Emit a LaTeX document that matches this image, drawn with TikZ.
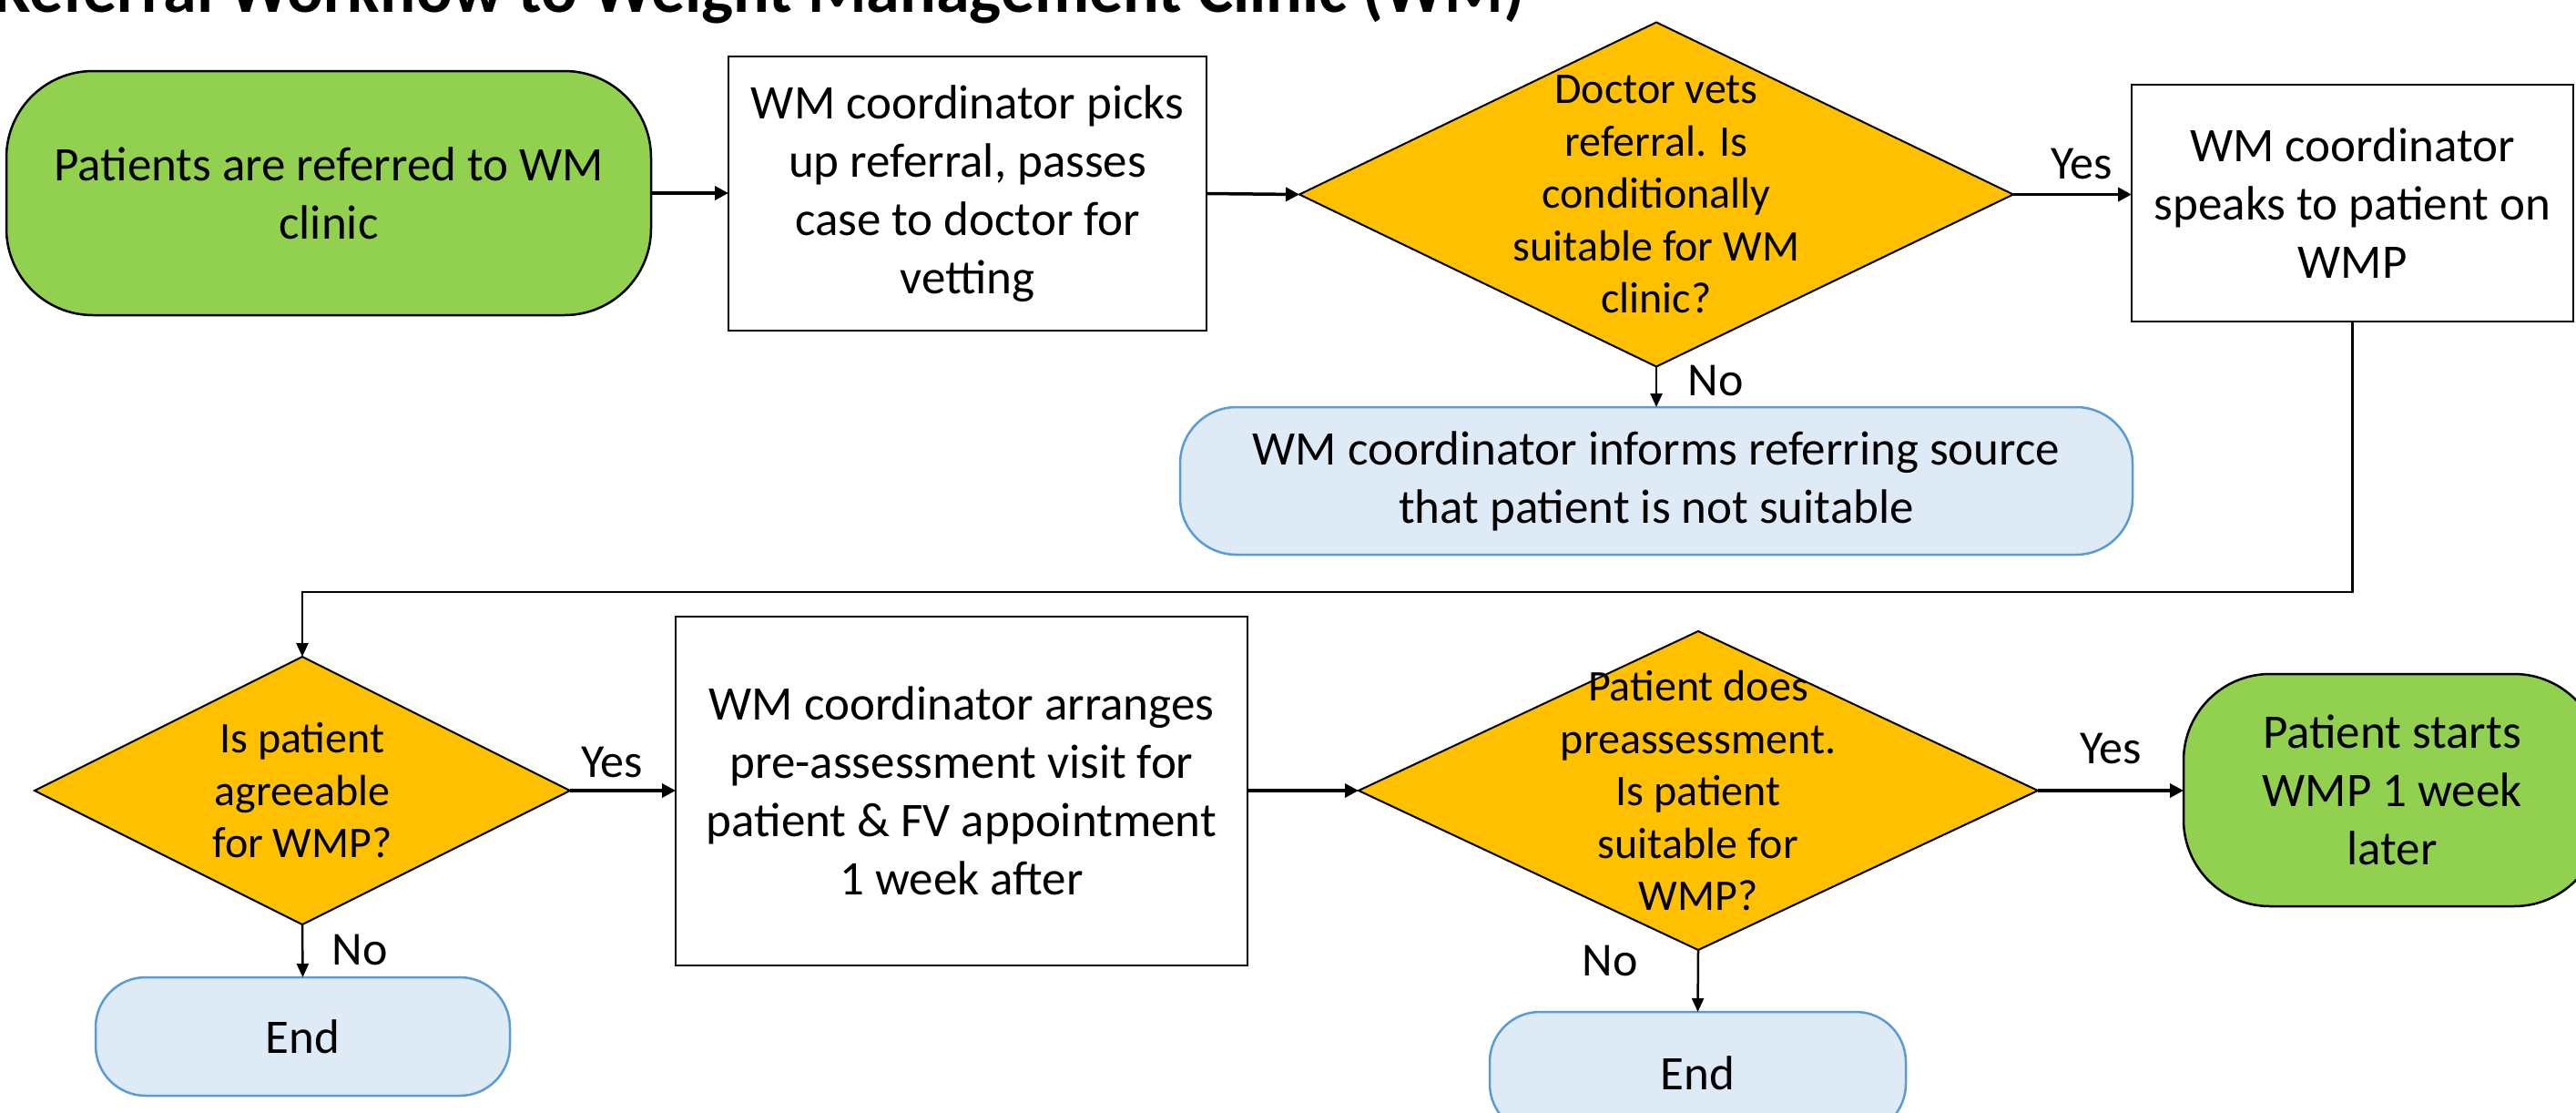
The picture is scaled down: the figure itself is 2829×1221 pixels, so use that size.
\documentclass[tikz,border=0pt]{standalone}
\usepackage{fontspec}
\setmainfont{Carlito}
\usetikzlibrary{shapes.geometric,arrows.meta}
\definecolor{gfill}{HTML}{92D050}
\definecolor{ofill}{HTML}{FFC000}
\definecolor{bfill}{HTML}{DEEBF7}
\definecolor{bdraw}{HTML}{5B9BD5}
\begin{document}
\begin{tikzpicture}[x=1pt,y=-1pt,
 box/.style={draw=black, line width=2.5pt, fill=white, inner sep=0pt, outer sep=0pt, align=center, font=\fontsize{53}{64}\selectfont},
 startbox/.style={box, fill=gfill, rounded corners=95pt},
 endbox/.style={draw=bdraw, line width=2.5pt, fill=bfill, inner sep=0pt, outer sep=0pt, align=center, font=\fontsize{53}{64}\selectfont},
 decision/.style={diamond, draw=black, line width=2pt, fill=ofill, inner sep=0pt, outer sep=0pt},
 dtext/.style={align=center, inner sep=0pt, font=\fontsize{48}{57.5}\selectfont},
 lbl/.style={anchor=base, inner sep=0pt, font=\fontsize{52}{60}\selectfont},
 arr/.style={-{Triangle[length=15pt,width=15pt]}, line width=3.5pt},
 arrthin/.style={-{Triangle[length=15pt,width=13pt]}, line width=2.5pt},
]
\path[use as bounding box, clip] (0,0) rectangle (2829,1221);
\fill[white] (0,0) rectangle (2829,1221);

\node[anchor=base west, inner sep=0pt, font=\fontsize{74}{80}\selectfont\bfseries] (title) at (-8,13) {Referral Workflow to Weight Management Clinic (WM)};

\node[startbox, minimum width=708pt, minimum height=268pt] (s1) at (361,212) {Patients are referred to WM\\clinic};
\node[box, minimum width=525pt, minimum height=301pt] (b2) at (1062.5,212.5) {WM coordinator picks\\up referral, passes\\case to doctor for\\vetting};
\node[decision, minimum width=784pt, minimum height=378pt] (d1) at (1819,213.5) {};
\node[dtext] (d1t) at (d1.center) {Doctor vets\\referral. Is\\conditionally\\suitable for WM\\clinic?};
\node[box, minimum width=485pt, minimum height=260pt] (b4) at (2583.5,223) {WM coordinator\\speaks to patient on\\WMP};
\node[endbox, rounded corners=62pt, minimum width=1046pt, minimum height=162pt] (nb) at (1819,528) {WM coordinator informs referring source\\that patient is not suitable};

\node[decision, minimum width=588pt, minimum height=294pt] (d2) at (332,868) {};
\node[dtext] (d2t) at (d2.center) {Is patient\\agreeable\\for WMP?};
\node[endbox, rounded corners=55pt, minimum width=455pt, minimum height=130pt] (e1) at (332.5,1138) {End};
\node[box, minimum width=628pt, minimum height=383pt] (b9) at (1056,868.5) {WM coordinator arranges\\pre-assessment visit for\\patient \& FV appointment\\1 week after};
\node[decision, minimum width=746pt, minimum height=350pt] (d3) at (1865,868) {};
\node[dtext] (d3t) at (d3.center) {Patient does\\preassessment.\\Is patient\\suitable for\\WMP?};
\node[endbox, rounded corners=55pt, minimum width=457pt, minimum height=134pt] (e2) at (1864.5,1178) {End};
\node[startbox, minimum width=458pt, minimum height=255pt] (g2) at (2627,867.5) {Patient starts\\WMP 1 week\\later};

\draw[arr] (s1.east) -- (b2.west |- s1.east);
\draw[arr] (b2.east) -- (d1.west);
\draw[arr] (d1.east) -- (d1.east -| b4.west);
\draw[arrthin] (d1.south) -- (nb.north);
\draw[arrthin] (b4.south) -- ++(0,297) -| (d2.north);
\draw[arr] (d2.east) -- (d2.east -| b9.west);
\draw[arrthin] (d2.south) -- (e1.north);
\draw[arr] (b9.east |- d3.west) -- (d3.west);
\draw[arr] (d3.east) -- (d3.east -| g2.west);
\draw[arrthin] (d3.south) -- (e2.north);

\node[lbl] (y1) at (2286,196) {Yes};
\node[lbl] (n1) at (1884,434) {No};
\node[lbl] (y2) at (672,853) {Yes};
\node[lbl] (n2) at (395,1059) {No};
\node[lbl] (y3) at (2318,838) {Yes};
\node[lbl] (n3) at (1768,1071) {No};
\end{tikzpicture}
\end{document}
